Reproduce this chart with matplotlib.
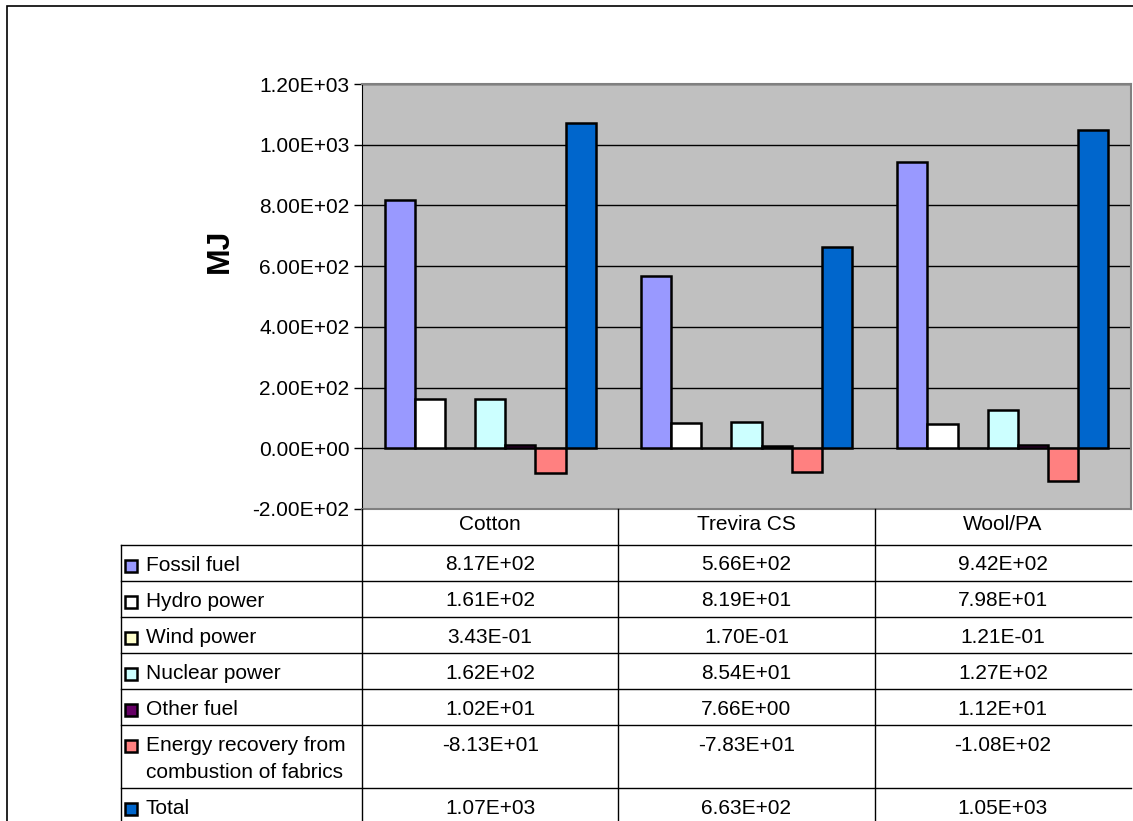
import matplotlib
matplotlib.use("Agg")
import matplotlib.pyplot as plt
from matplotlib.patches import Rectangle
from matplotlib.lines import Line2D
import numpy as np

plt.rcParams['font.family'] = ['Liberation Sans', 'DejaVu Sans']

categories = ["Cotton", "Trevira CS", "Wool/PA"]
series = ["Fossil fuel", "Hydro power", "Wind power", "Nuclear power",
          "Other fuel", "Energy recovery from\ncombustion of fabrics", "Total"]
fossil = [817, 566, 942]
hydro = [161, 81.9, 79.8]
wind = [0.343, 0.170, 0.121]
nuclear = [162, 85.4, 127]
other = [10.2, 7.66, 11.2]
recovery = [-81.3, -78.3, -108]
total = [1070, 663, 1050]
values = [fossil, hydro, wind, nuclear, other, recovery, total]
colors = ["#9999FF", "#FFFFFF", "#FFFFCC", "#CCFFFF", "#660066", "#FF8080", "#0066CC"]
yticks = [-200, 0, 200, 400, 600, 800, 1000, 1200]

W, H = 1133, 821
fig = plt.figure(figsize=(W / 100, H / 100), dpi=100)


def box(x0, y0, x1, y1):
    # pixel box (top-left origin) -> figure fraction rect
    return [x0 / W, 1 - y1 / H, (x1 - x0) / W, (y1 - y0) / H]


# chart area frame
fig.patches.append(Rectangle((7 / W, -0.1), 1.2, 1 - 6 / H + 0.1,
                             transform=fig.transFigure, fill=False,
                             edgecolor="black", lw=1.2))

ax = fig.add_axes(box(362, 84, 1131, 509))
ax.set_facecolor("#C0C0C0")
ax.set_xlim(-0.5, 2.5)
ax.set_ylim(-200, 1200)
ax.set_yticks(yticks)
ax.set_yticklabels(["%.2E" % v for v in yticks], fontsize=15)
ax.set_xticks([])
ax.yaxis.grid(True, color="black", lw=1)
ax.set_axisbelow(True)
ax.tick_params(axis="y", length=6, width=1, pad=3)
ax.spines["left"].set_color("black")
for s in ["top", "right", "bottom"]:
    ax.spines[s].set_color("#808080")
    ax.spines[s].set_linewidth(1.5)

x = np.arange(len(categories))
bw = 1 / 8.5
for i, (vals, c) in enumerate(zip(values, colors)):
    ax.bar(x + (i - 3) * bw, vals, bw, color=c, edgecolor="black", lw=1.8, zorder=3)

fig.text(220 / W, 1 - 251 / H, "MJ", rotation=90, fontsize=23, fontweight="bold",
         ha="center", va="center")

# data table below the plot, sharing the category x positions
tab = fig.add_axes(box(362, 509, 1131, 821))
tab.set_xlim(-0.5, 2.5)
tab.set_ylim(312, 0)
tab.axis("off")
px = 769 / 3
left = -0.5 - (362 - 121) / px
row_edges = [36, 72, 108, 144, 180, 216, 279, 315]

for xc, cat in zip(x, categories):
    tab.text(xc, 16, cat, ha="center", va="center", fontsize=15)
for xb in [0.5, 1.5]:
    tab.add_line(Line2D([xb, xb], [0, 315], color="black", lw=1, clip_on=False))
tab.add_line(Line2D([-0.5, -0.5], [0, 315], color="black", lw=1, clip_on=False))
tab.add_line(Line2D([left, left], [36, 315], color="black", lw=1, clip_on=False))
for ye in row_edges:
    tab.add_line(Line2D([left, 2.5], [ye, ye], color="black", lw=1, clip_on=False))

for r, (name, vals, c) in enumerate(zip(series, values, colors)):
    top = row_edges[r]
    yc = top + 21
    tab.add_patch(Rectangle((left + 4 / px, yc - 6), 12 / px, 12, facecolor=c,
                            edgecolor="black", lw=1.8, clip_on=False))
    tab.text(left + 25 / px, yc - 10, name, ha="left", va="top",
             fontsize=15, linespacing=1.5, clip_on=False)
    for xc, v in zip(x, vals):
        tab.text(xc, yc - 1, "%.2E" % v, ha="center", va="center", fontsize=15)

fig.savefig("out.png", dpi=100)
